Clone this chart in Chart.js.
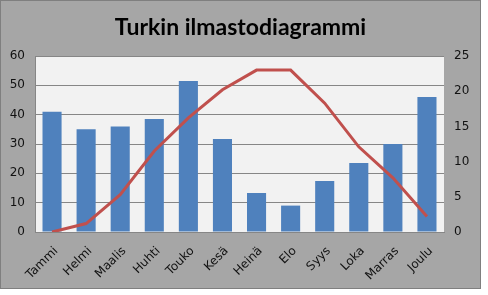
<!DOCTYPE html>
<html>
<head>
<meta charset="utf-8">
<script src="https://cdn.jsdelivr.net/npm/chart.js@4"></script>
<style>
    body { margin: 0; background: #fff; }
    .frame { position: absolute; left: 0; top: 0; width: 479px; height: 287px; border: 1px solid #7f7f7f; background: #a6a6a6; }
    canvas { display: block; }
</style>
</head>
<body>
<div class="frame"><canvas id="chart" width="479" height="287"></canvas></div>
<script>
const months = ["Tammi", "Helmi", "Maalis", "Huhti", "Touko", "Kesä", "Heinä", "Elo", "Syys", "Loka", "Marras", "Joulu"];
const rainfall = [41, 35, 36, 38.5, 51.5, 31.7, 13.3, 9, 17.4, 23.5, 30, 46];
const temperature = [0, 1.2, 5.3, 11.5, 16.2, 20.2, 23, 23, 18.3, 12.1, 7.7, 2.2];
const chartTitle = "Turkin ilmastodiagrammi";

const plotBackground = {
    id: "plotBackground",
    beforeDraw: (chart) => {
        const { ctx, chartArea } = chart;
        ctx.save();
        ctx.fillStyle = "#f2f2f2";
        ctx.fillRect(chartArea.left, chartArea.top, chartArea.right - chartArea.left, chartArea.bottom - chartArea.top);
        ctx.restore();
    },
};

const tickFont = { family: "'DejaVu Sans', sans-serif", size: 12 };

new Chart(document.getElementById("chart"), {
    data: {
        labels: months,
        datasets: [
            {
                type: "line",
                data: temperature,
                yAxisID: "yRight",
                borderColor: "#c0504d",
                borderWidth: 3,
                pointRadius: 0,
                tension: 0,
            },
            {
                type: "bar",
                data: rainfall,
                yAxisID: "yLeft",
                backgroundColor: "#4f81bd",
                barPercentage: 0.56,
                categoryPercentage: 1,
            },
        ],
    },
    options: {
        responsive: false,
        animation: false,
        layout: { padding: 0 },
        plugins: {
            legend: { display: false },
            tooltip: { enabled: false },
            title: {
                display: true,
                text: chartTitle,
                color: "#000",
                font: { family: "Lato, sans-serif", size: 23, weight: "bold", lineHeight: 1.2 },
                padding: { top: 13, bottom: 14.4 },
            },
        },
        scales: {
            x: {
                grid: { display: false },
                border: { color: "#868686" },
                ticks: { color: "#111", font: tickFont, minRotation: 45, maxRotation: 45, padding: 4, labelOffset: 4 },
                afterFit: (scale) => { scale.height = 56; },
            },
            yLeft: {
                position: "left",
                min: 0,
                max: 60,
                ticks: { stepSize: 10, color: "#111", font: tickFont, padding: 10 },
                grid: { color: "#868686", drawTicks: false },
                border: { color: "#868686" },
                afterFit: (scale) => { scale.width = 34; },
            },
            yRight: {
                position: "right",
                min: 0,
                max: 25,
                ticks: { stepSize: 5, color: "#111", font: tickFont, padding: 10 },
                grid: { display: false, drawTicks: false },
                border: { display: false },
                afterFit: (scale) => { scale.width = 36; },
            },
        },
    },
    plugins: [plotBackground],
});
</script>
</body>
</html>
